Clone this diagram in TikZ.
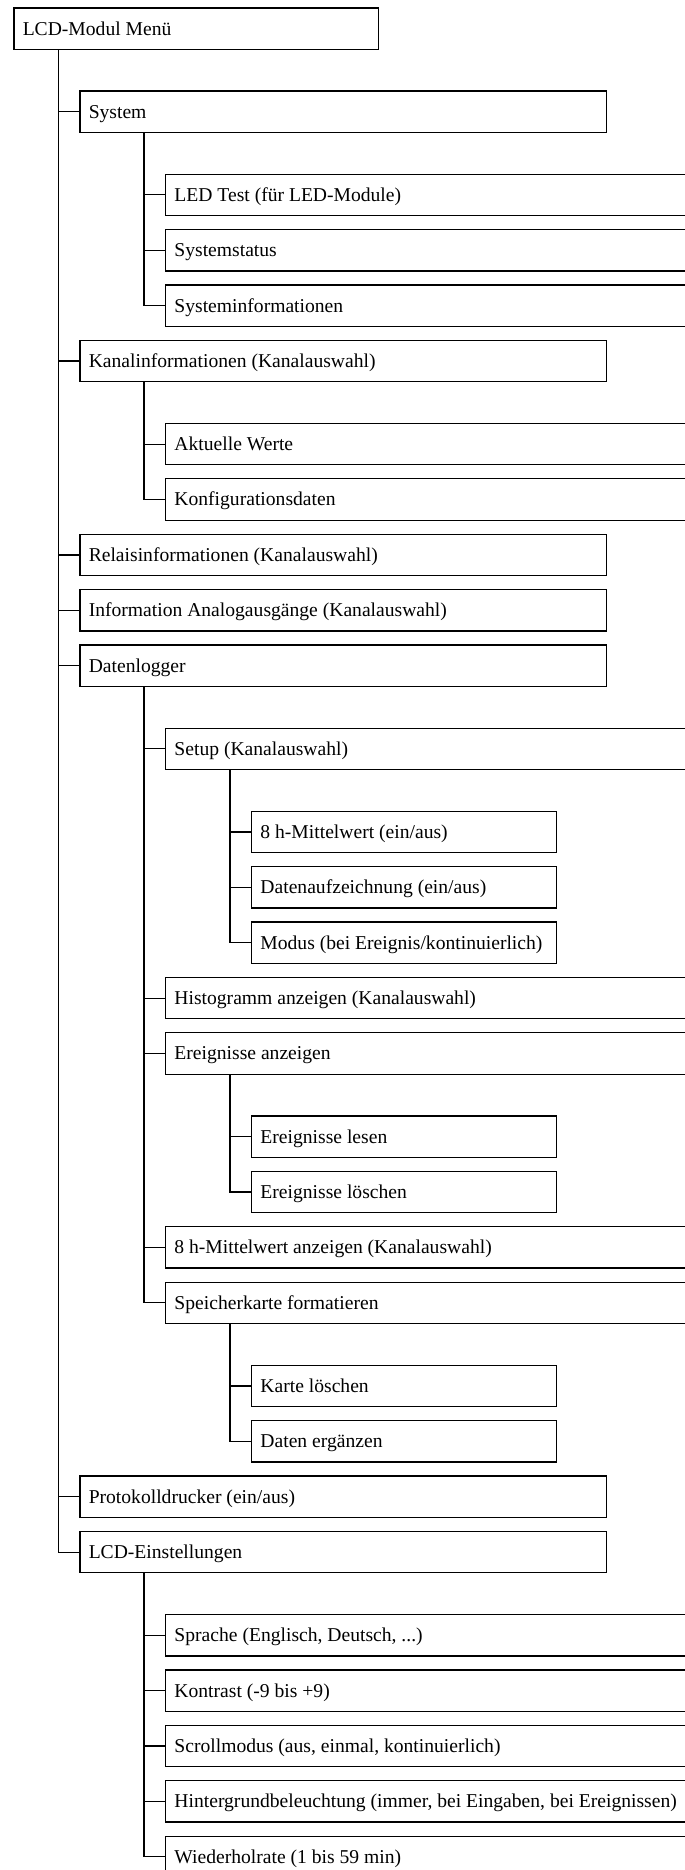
\documentclass[tikz,border=0pt]{standalone}
\usepackage{fontspec}
\setmainfont{Liberation Serif}
\tikzset{
  base/.style={draw, line width=0.95pt, rectangle, anchor=north west, inner sep=0pt, minimum height=31pt},
  lone/.style={base, minimum width=273.5pt},
  ltwo/.style={base, minimum width=395pt},
  lthree/.style={base, minimum width=405pt},
  lfour/.style={base, minimum width=228.75pt},
  lbl/.style={anchor=west, inner sep=0pt, font=\fontsize{14.7pt}{17pt}\selectfont, text height=9.7pt, text depth=0pt},
  conn/.style={line width=0.9pt}
}
\newcommand\menuitem[5]{%
  \node[#1] (#2) at (#3,{7.3+55.4*#4}) {};
  \node[lbl] (#2t) at ([xshift=6.9pt]#2.west) {#5};
}
\begin{document}
\begin{tikzpicture}[x=0.75pt,y=-0.75pt]
\useasboundingbox (0,0) rectangle (685,1870);
\clip (0,0) rectangle (685,1870);
\fill[white] (0,0) rectangle (685,1870);
% level positions
\menuitem{lone}{root}{13.3}{0}{LCD-Modul Menü}
\menuitem{ltwo}{sys}{79.3}{1.5}{System}
\menuitem{lthree}{led}{165}{3}{LED Test (für LED-Module)}
\menuitem{lthree}{stat}{165}{4}{Systemstatus}
\menuitem{lthree}{sinfo}{165}{5}{Systeminformationen}
\menuitem{ltwo}{kanal}{79.3}{6}{Kanalinformationen (Kanalauswahl)}
\menuitem{lthree}{akt}{165}{7.5}{Aktuelle Werte}
\menuitem{lthree}{konf}{165}{8.5}{Konfigurationsdaten}
\menuitem{ltwo}{relais}{79.3}{9.5}{Relaisinformationen (Kanalauswahl)}
\menuitem{ltwo}{ana}{79.3}{10.5}{Information Analogausgänge (Kanalauswahl)}
\menuitem{ltwo}{dlog}{79.3}{11.5}{Datenlogger}
\menuitem{lthree}{setup}{165}{13}{Setup (Kanalauswahl)}
\menuitem{lfour}{mw}{251}{14.5}{8 h-Mittelwert (ein/aus)}
\menuitem{lfour}{daufz}{251}{15.5}{Datenaufzeichnung (ein/aus)}
\menuitem{lfour}{modus}{251}{16.5}{Modus (bei Ereignis/kontinuierlich)}
\menuitem{lthree}{histo}{165}{17.5}{Histogramm anzeigen (Kanalauswahl)}
\menuitem{lthree}{ereig}{165}{18.5}{Ereignisse anzeigen}
\menuitem{lfour}{elesen}{251}{20}{Ereignisse lesen}
\menuitem{lfour}{eloesch}{251}{21}{Ereignisse löschen}
\menuitem{lthree}{mwanz}{165}{22}{8 h-Mittelwert anzeigen (Kanalauswahl)}
\menuitem{lthree}{speicher}{165}{23}{Speicherkarte formatieren}
\menuitem{lfour}{karte}{251}{24.5}{Karte löschen}
\menuitem{lfour}{dergz}{251}{25.5}{Daten ergänzen}
\menuitem{ltwo}{proto}{79.3}{26.5}{Protokolldrucker (ein/aus)}
\menuitem{ltwo}{lcd}{79.3}{27.5}{LCD-Einstellungen}
\menuitem{lthree}{sprache}{165}{29}{Sprache (Englisch, Deutsch, ...)}
\menuitem{lthree}{kontrast}{165}{30}{Kontrast (-9 bis +9)}
\menuitem{lthree}{scroll}{165}{31}{Scrollmodus (aus, einmal, kontinuierlich)}
\menuitem{lthree}{hinter}{165}{32}{Hintergrundbeleuchtung (immer, bei Eingaben, bei Ereignissen)}
\menuitem{lthree}{wieder}{165}{33}{Wiederholrate (1 bis 59 min)}
% connectors
\path (root.south west) ++(45.4,0) coordinate (troot);
\draw[conn] (troot) |- (lcd.west);
\foreach \c in {sys,kanal,relais,ana,dlog,proto}{\draw[conn] (troot |- \c.west) -- (\c.west);}
\path (sys.south west) ++(64.7,0) coordinate (tsys);
\draw[conn] (tsys) |- (sinfo.west);
\foreach \c in {led,stat}{\draw[conn] (tsys |- \c.west) -- (\c.west);}
\path (kanal.south west) ++(64.7,0) coordinate (tkanal);
\draw[conn] (tkanal) |- (konf.west);
\draw[conn] (tkanal |- akt.west) -- (akt.west);
\path (dlog.south west) ++(64.7,0) coordinate (tdlog);
\draw[conn] (tdlog) |- (speicher.west);
\foreach \c in {setup,histo,ereig,mwanz}{\draw[conn] (tdlog |- \c.west) -- (\c.west);}
\path (setup.south west) ++(65,0) coordinate (tsetup);
\draw[conn] (tsetup) |- (modus.west);
\foreach \c in {mw,daufz}{\draw[conn] (tsetup |- \c.west) -- (\c.west);}
\path (ereig.south west) ++(65,0) coordinate (tereig);
\draw[conn] (tereig) |- (eloesch.west);
\draw[conn] (tereig |- elesen.west) -- (elesen.west);
\path (speicher.south west) ++(65,0) coordinate (tspeicher);
\draw[conn] (tspeicher) |- (dergz.west);
\draw[conn] (tspeicher |- karte.west) -- (karte.west);
\path (lcd.south west) ++(64.7,0) coordinate (tlcd);
\draw[conn] (tlcd) |- (wieder.west);
\foreach \c in {sprache,kontrast,scroll,hinter}{\draw[conn] (tlcd |- \c.west) -- (\c.west);}
\end{tikzpicture}
\end{document}
